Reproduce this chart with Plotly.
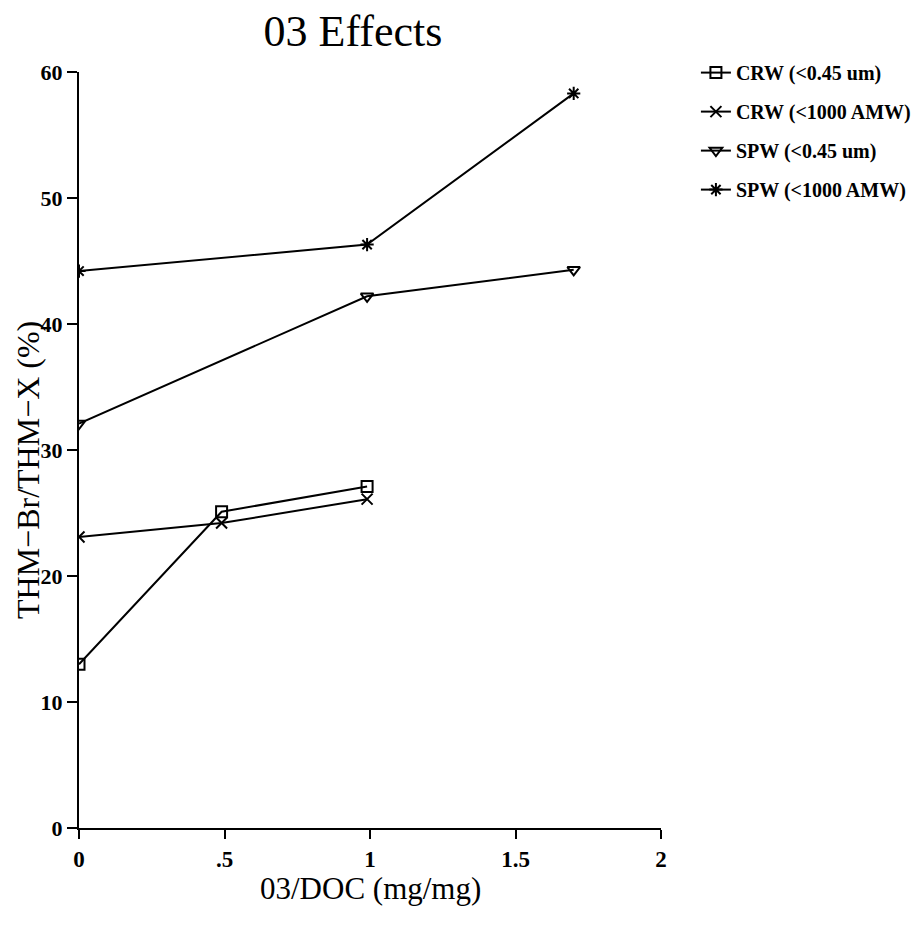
import plotly.graph_objects as go

series_names = ["CRW (<0.45 um)", "CRW (<1000 AMW)", "SPW (<0.45 um)", "SPW (<1000 AMW)"]
crw_045_x = [0, 0.49, 0.99]
crw_045_y = [13.0, 25.1, 27.1]
crw_1000_x = [0, 0.49, 0.99]
crw_1000_y = [23.1, 24.2, 26.1]
spw_045_x = [0, 0.99, 1.7]
spw_045_y = [32.1, 42.2, 44.3]
spw_1000_x = [0, 0.99, 1.7]
spw_1000_y = [44.2, 46.3, 58.3]

x_tickvals = [0, 0.5, 1, 1.5, 2]
x_ticktext = ["0", ".5", "1", "1.5", "2"]
y_tickvals = [0, 10, 20, 30, 40, 50, 60]

symbols = ["square-open", "x-thin-open", "triangle-down-open", "asterisk-open"]
xs = [crw_045_x, crw_1000_x, spw_045_x, spw_1000_x]
ys = [crw_045_y, crw_1000_y, spw_045_y, spw_1000_y]

FONT = "Liberation Serif"

fig = go.Figure()
for i, (name, x, y, sym) in enumerate(zip(series_names, xs, ys, symbols)):
    fig.add_trace(go.Scatter(
        x=x, y=y, name=name, mode="lines+markers",
        legendgroup=f"g{i}",
        line=dict(color="black", width=2),
        marker=dict(symbol=sym, size=11, color="black",
                    line=dict(color="black", width=2)),
    ))

W, H = 905, 918
L, T = 71, 64
PR, PB = 653, 820
PW, PH = PR - L, PB - T
fig.update_layout(
    width=W, height=H,
    paper_bgcolor="white", plot_bgcolor="white",
    margin=dict(l=L, r=W - PR, t=T, b=H - PB, autoexpand=False),
    title=dict(text="03 Effects", x=345 / W, xanchor="center",
               y=1 - 23 / H, yanchor="middle",
               font=dict(family=FONT, size=44, color="black")),
    font=dict(family=FONT, color="black"),
    legend=dict(x=1.06, y=1.025, xanchor="left", yanchor="top",
                font=dict(family=FONT, size=20, color="black", weight="bold"),
                tracegroupgap=10, bgcolor="rgba(0,0,0,0)"),
    showlegend=True,
    annotations=[
        dict(text="THM\u2212Br/THM\u2212X (%)", textangle=-90, showarrow=False,
             xref="paper", yref="paper", x=(20 - L) / PW, y=(PB - 462) / PH,
             xanchor="center", yanchor="middle",
             font=dict(family=FONT, size=32, color="black")),
        dict(text="03/DOC (mg/mg)", showarrow=False,
             xref="paper", yref="paper", x=(362 - L) / PW, y=(PB - 880) / PH,
             xanchor="center", yanchor="middle",
             font=dict(family=FONT, size=31, color="black")),
    ],
)
fig.update_xaxes(
    range=[0, 2], tickvals=x_tickvals, ticktext=x_ticktext,
    showline=True, linecolor="black", linewidth=2,
    ticks="outside", ticklen=9, tickwidth=2, tickcolor="black",
    showgrid=False, zeroline=False, automargin=False,
    tickfont=dict(family=FONT, size=23, color="black", weight="bold"),
)
fig.update_yaxes(
    range=[0, 60], tickvals=y_tickvals,
    showline=True, linecolor="black", linewidth=2,
    ticks="outside", ticklen=10, tickwidth=2, tickcolor="black",
    showgrid=False, zeroline=False, automargin=False,
    tickfont=dict(family=FONT, size=22, color="black", weight="bold"),
)

fig.write_html("out.html")
